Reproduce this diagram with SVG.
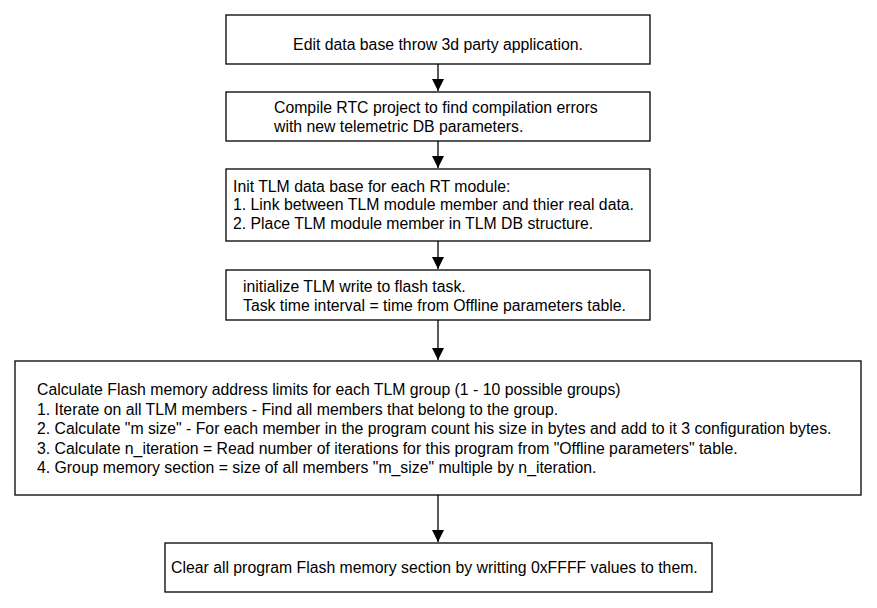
<svg xmlns="http://www.w3.org/2000/svg" width="877" height="608" viewBox="0 0 877 608">
<defs>
<style>
.box{fill:#fff;stroke:#000;stroke-width:1.3}
.t{font-family:"Liberation Sans",Arial,sans-serif;font-size:15.8px;fill:#000}
.c{text-anchor:middle}
.ln{stroke:#000;stroke-width:1.3;fill:none}
</style>
<marker id="ah" viewBox="0 0 12 12" refX="12" refY="6" markerWidth="12" markerHeight="12" markerUnits="userSpaceOnUse" orient="auto">
<path d="M0,0 L12,6 L0,12 Z" fill="#000"/>
</marker>
</defs>
<rect width="877" height="608" fill="#fff"/>
<g id="connectors">
<line class="ln" x1="438" y1="64" x2="438" y2="91" marker-end="url(#ah)"/>
<line class="ln" x1="438" y1="141" x2="438" y2="168" marker-end="url(#ah)"/>
<line class="ln" x1="438" y1="241" x2="438" y2="269" marker-end="url(#ah)"/>
<line class="ln" x1="438" y1="320" x2="438" y2="360" marker-end="url(#ah)"/>
<line class="ln" x1="438" y1="495" x2="438" y2="542" marker-end="url(#ah)"/>
</g>
<g id="n1">
<rect class="box" x="226" y="15" width="424" height="49"/>
<text class="t c" x="438" y="50">Edit data base throw 3d party application.</text>
</g>
<g id="n2">
<rect class="box" x="226" y="92" width="424" height="49"/>
<text class="t" x="274" y="113">Compile RTC project to find compilation errors</text>
<text class="t" x="274" y="132">with new telemetric DB parameters.</text>
</g>
<g id="n3">
<rect class="box" x="226" y="169" width="424" height="72"/>
<text class="t" x="233" y="191.5">Init TLM data base for each RT module:</text>
<text class="t" x="233" y="210">1. Link between TLM module member and thier real data.</text>
<text class="t" x="233" y="228.5">2. Place TLM module member in TLM DB structure.</text>
</g>
<g id="n4">
<rect class="box" x="226" y="270" width="424" height="50"/>
<text class="t" x="243" y="292">initialize TLM write to flash task.</text>
<text class="t" x="243" y="310.5">Task time interval = time from Offline parameters table.</text>
</g>
<g id="n5">
<rect class="box" x="15" y="361" width="846" height="134"/>
<text class="t" x="37" y="395">Calculate Flash memory address limits for each TLM group (1 - 10 possible groups)</text>
<text class="t" x="37" y="414.5">1. Iterate on all TLM members - Find all members that belong to the group.</text>
<text class="t" x="37" y="434">2. Calculate "m size" - For each member in the program count his size in bytes and add to it 3 configuration bytes.</text>
<text class="t" x="37" y="453.5">3. Calculate n_iteration = Read number of iterations for this program from "Offline parameters" table.</text>
<text class="t" x="37" y="473">4. Group memory section = size of all members "m_size" multiple by n_iteration.</text>
</g>
<g id="n6">
<rect class="box" x="165" y="543" width="547" height="49"/>
<text class="t" x="171" y="573">Clear all program Flash memory section by writting 0xFFFF values to them.</text>
</g>
</svg>
